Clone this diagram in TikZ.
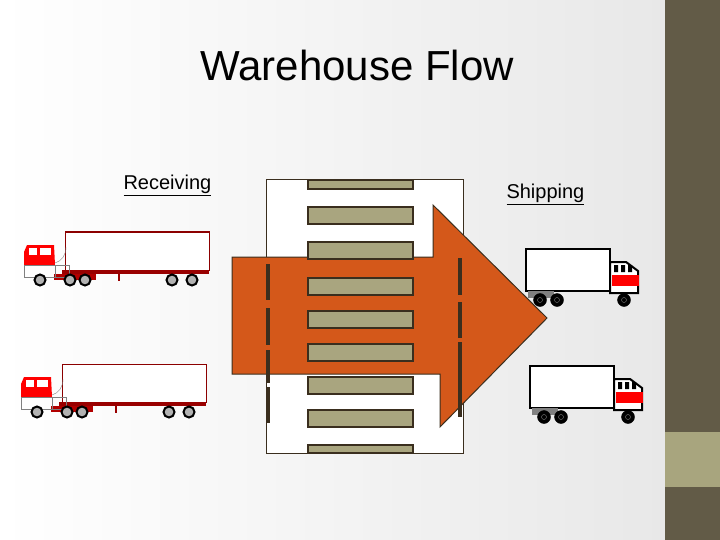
\documentclass[tikz,border=0pt]{standalone}
\usepackage{fontspec}
\setmainfont{Liberation Sans}
\begin{document}
\begin{tikzpicture}[x=1pt,y=-1pt,
 rack/.style={fill=rackc,draw=darkbr,line width=1.5pt},
 dock/.style={line width=4pt,draw=darkbr},
 wheel/.style={fill=gray!60,draw=black,line width=2pt},
 bwheel/.style={fill=black,draw=black},
 pics/semi/.style={code={
   \draw[draw=red!55!black,line width=1pt,fill=white] (41,-13) rectangle (185,25);
   \fill[red!60!black] (38,25) rectangle (185,29);
   \draw[red!60!black,line width=1.5pt] (95,29)--(95,36);
   \fill[red!70!black] (30,29) rectangle (72,35);
   \fill[red] (0,7) -- (3,0) -- (30,0) -- (31,20) -- (0,20) -- cycle;
   \fill[white] (5,3) rectangle (13,10); \fill[white] (16,3) rectangle (27,10);
   \draw[gray] (0,20) rectangle (31,32) (31,20) rectangle (45,32);
   \draw[gray] (31,18) .. controls (38,16) and (42,10) .. (42,2);
   \foreach \x in {16,46,61,148,168} \draw[wheel] (\x,35) circle (5.5pt);
 }},
 pics/boxtruck/.style={code={
   \draw[line width=2.5pt,fill=white] (0,0) rectangle (84,42);
   \fill[gray] (2,42) rectangle (28,49);
   \draw[line width=2pt,fill=white] (84,13) -- (100,13) -- (112,22) -- (112,44) -- (84,44) -- cycle;
   \fill[red] (86,26) rectangle (113,37);
   \fill[black] (88,16) rectangle (92,23) (95,16) rectangle (99,23) (102,16) rectangle (106,23);
   \foreach \x in {14,31,98} {\draw[bwheel] (\x,51) circle (6.5pt); \draw[gray,thin] (\x,51) circle (2.5pt);}
 }}]
\definecolor{darkbr}{HTML}{3A2E1E}
\definecolor{rackc}{HTML}{A9A57F}
\definecolor{arrowc}{HTML}{D4581A}
\definecolor{side}{HTML}{625B47}
\definecolor{sideb}{HTML}{A8A57E}
\useasboundingbox (0,0) rectangle (720,540);
\shade[left color=white,right color=gray!18] (0,0) rectangle (665,540);
\fill[side] (665,0) rectangle (720,540);
\fill[sideb] (665,432) rectangle (720,487);
\node (title) at (357,65) {\fontsize{42}{46}\selectfont Warehouse Flow};
\node[anchor=west] (recv) at (120,185) {\fontsize{20}{24}\selectfont\underline{Receiving}};
\node[anchor=west] (ship) at (503,194) {\fontsize{20}{24}\selectfont\underline{Shipping}};
\draw[darkbr,line width=1pt,fill=white] (266,180) rectangle (463,453);
\draw[darkbr,line width=1pt,fill=arrowc] (232,257) -- (433,257) -- (433,205) -- (547,318) -- (440,427) -- (440,374) -- (232,374) -- cycle;
\foreach \y in {207,242,278,311,344,377,410} \draw[rack] (308,\y) rectangle (413,\y+17);
\draw[rack] (308,180) rectangle (413,189);
\draw[rack] (308,445) rectangle (413,453);
\draw[dock] (268,264)--(268,300) (268,308)--(268,345) (268,350)--(268,383) (268,387)--(268,423);
\draw[dock] (460,258)--(460,295) (460,302)--(460,338) (460,342)--(460,417);
\pic at (24,245) {semi};
\pic at (21,377) {semi};
\pic at (526,249) {boxtruck};
\pic at (530,366) {boxtruck};
\end{tikzpicture}
\end{document}
